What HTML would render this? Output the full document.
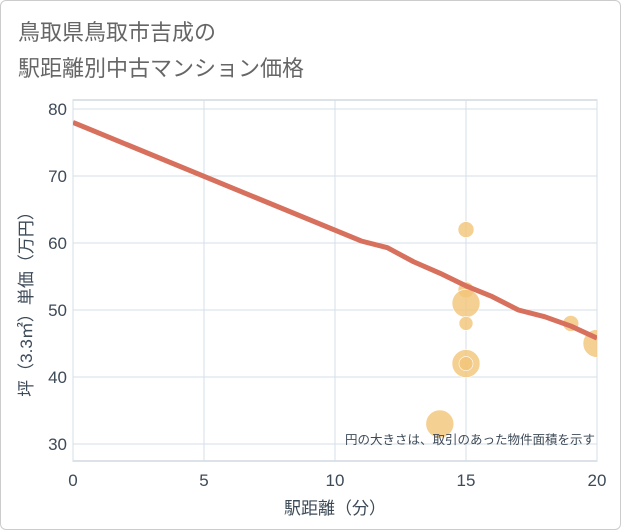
<!DOCTYPE html>
<html><head><meta charset="utf-8"><style>
body{margin:0;background:#fff;font-family:"Liberation Sans","Noto Sans CJK JP",sans-serif}
#wrap{position:relative;width:619px;height:528px;border:1px solid #ccc;border-radius:6px;overflow:hidden}
</style></head><body>
<div id="wrap">
<svg id="c" width="621" height="530" style="position:absolute;left:-1px;top:-1px"><defs><clipPath id="pc"><rect x="73" y="100" width="524" height="361"/></clipPath></defs></svg>
</div>
<script>
const xTicks=[0,5,10,15,20];
const yTicks=[30,40,50,60,70,80];
const lineX=[0,11,12,13,14,15,16,17,18,19,20];
const lineY=[78,60.3,59.3,57.2,55.5,53.6,52,50,49,47.6,45.8];
const ptX=[15,15,15,15,15,15,14,19,20];
const ptY=[62,53,51,48,42,42,33,48,45];
const ptR=[8,8,14,7,14,7,14,8,14];
const NS='http://www.w3.org/2000/svg';
const svg=document.getElementById('c');
const L=73,R=597,T=109,B=444;
const sx=v=>L+(v-0)/20*(R-L), sy=v=>B-(v-30)/50*(B-T);
function el(t,a,p){const e=document.createElementNS(NS,t);for(const k in a)e.setAttribute(k,a[k]);(p||svg).appendChild(e);return e;}
let bg=el('rect',{x:L,y:100,width:R-L,height:B-100+17,fill:'#fff',stroke:'#b8c4d0'});


xTicks.forEach(v=>{let g=el('line',{x1:sx(v),x2:sx(v),y1:100,y2:461,stroke:'#d5dfe9'});


let t=el('text',{x:sx(v),y:486,'text-anchor':'middle','font-size':17,fill:'#3d4a57'});t.textContent=v;

});
yTicks.forEach(v=>{let g=el('line',{x1:L,x2:R,y1:sy(v),y2:sy(v),stroke:'#d5dfe9'});


let t=el('text',{x:67,y:sy(v)+6,'text-anchor':'end','font-size':17,fill:'#3d4a57'});t.textContent=v;

});
const g=el('g',{'clip-path':'url(#pc)'});


ptX.forEach((x,i)=>{let c=el('circle',{cx:sx(x),cy:sy(ptY[i]),r:ptR[i],fill:'rgba(243,196,120,0.8)',stroke:'#fff','stroke-width':0.6},g);

});
let d=lineX.map((x,i)=>(i?'L':'M')+sx(x)+' '+sy(lineY[i])).join(' ');
let p=el('path',{d:d,fill:'none',stroke:'#d7705c','stroke-width':5,'stroke-linejoin':'round'},g);


function txt(s,a,name){let t=el('text',a);t.textContent=s;

return t;}
txt('鳥取県鳥取市吉成の',{x:18,y:40,'font-size':22,fill:'#666'},'chart-title-line1');
txt('駅距離別中古マンション価格',{x:18,y:76,'font-size':22,fill:'#666'},'chart-title-line2');
txt('駅距離（分）',{x:335,y:514,'text-anchor':'middle','font-size':17,fill:'#3d4a57'},'x-axis-title');
txt('坪（3.3㎡）単価（万円）',{x:0,y:0,'text-anchor':'middle','font-size':17,fill:'#3d4a57',transform:'translate(32,300) rotate(-90)'},'y-axis-title');
txt('円の大きさは、取引のあった物件面積を示す',{x:595,y:444,'text-anchor':'end','font-size':12.5,fill:'#3d4a57'},'size-note');
</script>
</body></html>
